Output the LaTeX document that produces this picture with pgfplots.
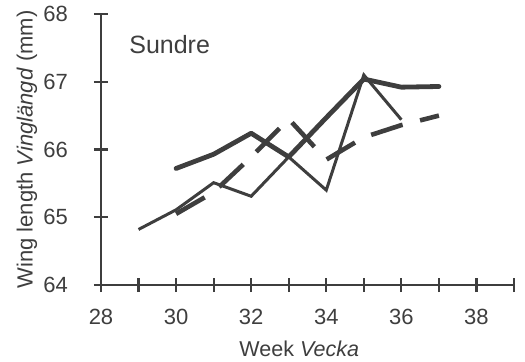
\documentclass[border=0pt]{standalone}
\usepackage{fontspec}
\setmainfont{Liberation Sans}
\usepackage{pgfplots}
\pgfplotsset{compat=1.18}

\definecolor{ink}{RGB}{62,62,62}

\begin{document}
\begin{tikzpicture}
\useasboundingbox (-101bp,-77bp) rectangle (424bp,285bp);
\begin{axis}[
  at={(0,0)}, anchor=south west,
  scale only axis,
  width=413bp, height=271bp,
  xmin=28, xmax=39, ymin=64, ymax=68,
  axis x line=bottom, axis y line=left,
  axis line style={-, ink, line width=2.4bp},
  xtick={28,...,39},
  xticklabels={28,,30,,32,,34,,36,,38,},
  ytick={64,65,66,67,68},
  tick align=center,
  major tick length=14bp,
  tick style={ink, line width=2.2bp},
  /pgf/number format/assume math mode=true,
  ticklabel style={font=\fontsize{22bp}{26bp}\selectfont, text=ink},
  yticklabel style={inner sep=0pt, anchor=east, xshift=-26bp},
  xticklabel style={inner sep=0pt, anchor=north, yshift=-17bp},
  xlabel={Week \textit{Vecka}},
  ylabel={Wing length \textit{Vinglängd} (mm)},
  label style={text=ink},
  xlabel style={font=\fontsize{21.5bp}{25bp}\selectfont, inner sep=0pt,
    anchor=base, at={(axis description cs:0.48,0)}, yshift=-71bp},
  ylabel style={font=\fontsize{22bp}{26bp}\selectfont, inner sep=0pt,
    anchor=center, at={(axis description cs:0,0.5)}, yshift=74bp},
  clip=false,
]
% thin solid series
\addplot[ink, line width=3bp, line join=miter] coordinates {
  (29,64.82) (30,65.11) (31,65.51) (32,65.31) (33,65.89)
  (34,65.40) (35,67.10) (36,66.44)
};
% thick solid series
\addplot[ink, line width=4.8bp, line cap=round, line join=round] coordinates {
  (30,65.72) (31,65.93) (32,66.24) (33,65.89) (34,66.47)
  (35,67.04) (36,66.92) (37,66.93)
};
% thick dashed series
\addplot[ink, line width=4.6bp, dash pattern=on 33bp off 18bp] coordinates {
  (30,65.05) (31,65.37) (32,65.89) (33,66.45) (34,65.85)
  (35,66.18) (36,66.36) (37,66.50)
};
\node[anchor=base west, inner sep=0pt, text=ink,
  font=\fontsize{25bp}{29bp}\selectfont] at (axis cs:28.75,67.41) {Sundre};
\end{axis}
\end{tikzpicture}
\end{document}
